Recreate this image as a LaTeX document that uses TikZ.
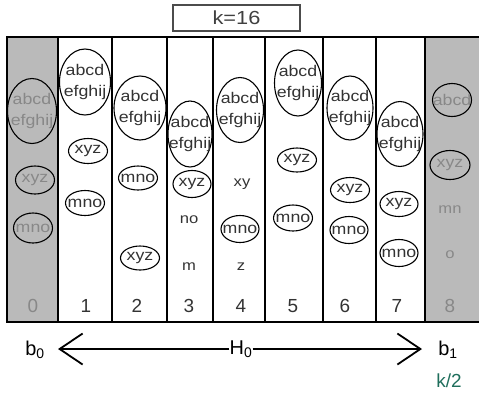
\documentclass[tikz,border=0pt]{standalone}
\usepackage{fontspec}
\setmainfont{Liberation Sans}
\newfontfamily\widesans[FakeStretch=1.15]{Liberation Sans}
\usetikzlibrary{shapes.geometric,arrows.meta}
\definecolor{colgray}{HTML}{BABABA}
\definecolor{txtdark}{HTML}{333333}
\definecolor{txtgray}{HTML}{888888}
\definecolor{kgreen}{HTML}{1F6E5C}
\tikzset{
  ell/.style={draw=black, line width=1.1bp, ellipse, inner sep=0pt},
  big/.style={ell, minimum width=48bp, minimum height=65bp},
  small/.style={ell, minimum width=39bp, minimum height=26bp},
  etxt/.style={inner sep=0pt, align=center, text=txtdark,
    font=\widesans\fontsize{15.5}{20.5}\selectfont},
  etxtg/.style={etxt, text=txtgray},
  plain/.style={text=txtdark, font=\widesans\fontsize{14.5}{17}\selectfont, inner sep=0pt},
  num/.style={text=txtdark, font=\fontsize{19}{21}\selectfont, inner sep=0pt},
  divider/.style={line width=2bp, draw=black},
  lbl/.style={text=black, font=\fontsize{20}{22}\selectfont, inner sep=0pt},
}
\begin{document}
\begin{tikzpicture}[x=1bp,y=-1bp]
\useasboundingbox (0,0) rectangle (479,392);
% gray columns
\fill[colgray] (7,37) rectangle (58,322);
\fill[colgray] (425,37) rectangle (479,322);
% frame
\draw[divider] (479,37) -- (7,37) -- (7,322) -- (479,322);
\foreach \x in {58,112,167,213,265,323,376,425}
  \draw[divider] (\x,37) -- (\x,322);
% k box
\node[draw=black!70, line width=2bp, minimum width=127bp, minimum height=26bp, inner sep=0pt,
  text=black!75, font=\widesans\fontsize{19}{22}\selectfont] (k) at (236.5,18) {k=16};
% column 0
\node[big, minimum width=49bp, label={[etxtg]center:abcd\\efghij}] (c0a) at (32,111) {};
\node[small, minimum height=28bp, label={[etxtg]center:xyz}] (c0b) at (35,180) {};
\node[small, minimum height=30bp, label={[etxtg]center:mno}] (c0c) at (33,228) {};
% column 1
\node[big, minimum width=51bp, minimum height=66bp, label={[etxt]center:abcd\\efghij}] (c1a) at (85,82) {};
\node[small, minimum height=25bp, label={[etxt]center:xyz}] (c1b) at (88,151) {};
\node[small, minimum height=25bp, label={[etxt]center:mno}] (c1c) at (85,203) {};
% column 2
\node[big, minimum width=52bp, minimum height=64bp, label={[etxt]center:abcd\\efghij}] (c2a) at (140,108) {};
\node[small, minimum height=24bp, label={[etxt]center:mno}] (c2b) at (138,178) {};
\node[small, minimum height=24bp, label={[etxt]center:xyz}] (c2c) at (140,258) {};
% column 3
\node[big, minimum width=44bp, minimum height=66bp, label={[etxt]center:abcd\\efghij}] (c3a) at (190,134) {};
\node[small, minimum width=38bp, minimum height=27bp, label={[etxt]center:xyz}] (c3b) at (192,184) {};
\node[plain] (c3c) at (189,220) {no};
\node[plain] (c3d) at (189,267) {m};
% column 4
\node[big, minimum width=47bp, label={[etxt]center:abcd\\efghij}] (c4a) at (240,110) {};
\node[plain] (c4b) at (242,184) {xy};
\node[small, minimum width=38bp, minimum height=27bp, label={[etxt]center:mno}] (c4c) at (240,229) {};
\node[plain] (c4d) at (241,267) {z};
% column 5
\node[big, minimum width=47bp, minimum height=66bp, label={[etxt]center:abcd\\efghij}] (c5a) at (298,83) {};
\node[small, minimum height=24bp, label={[etxt]center:xyz}] (c5b) at (297,160) {};
\node[small, minimum height=26bp, label={[etxt]center:mno}] (c5c) at (293,218) {};
% column 6
\node[big, minimum width=46bp, minimum height=64bp, label={[etxt]center:abcd\\efghij}] (c6a) at (350,108) {};
\node[small, minimum height=25bp, label={[etxt]center:xyz}] (c6b) at (350,190) {};
\node[small, minimum width=38bp, minimum height=27bp, label={[etxt]center:mno}] (c6c) at (349,230) {};
% column 7
\node[big, minimum width=46bp, minimum height=65bp, label={[etxt]center:abcd\\efghij}] (c7a) at (400,134) {};
\node[small, minimum width=38bp, minimum height=25bp, label={[etxt]center:xyz}] (c7b) at (399,204) {};
\node[small, minimum width=38bp, minimum height=27bp, label={[etxt]center:mno}] (c7c) at (399,253) {};
% column 8
\node[small, minimum height=33bp, label={[etxtg]center:abcd}] (c8a) at (452,100) {};
\node[small, minimum width=40bp, minimum height=29bp, label={[etxtg]center:xyz}] (c8b) at (450,165) {};
\node[plain, text=txtgray] (c8c) at (450,210) {mn};
\node[plain, text=txtgray] (c8d) at (450,255) {o};
% numbers
\node[num, text=txtgray] (n0) at (33,306) {0};
\node[num] (n1) at (86,306) {1};
\node[num] (n2) at (137,306) {2};
\node[num] (n3) at (189,306) {3};
\node[num] (n4) at (241,306) {4};
\node[num] (n5) at (293,306) {5};
\node[num] (n6) at (345,306) {6};
\node[num] (n7) at (397,306) {7};
\node[num, text=txtgray] (n8) at (450,306) {8};
% bottom arrow
\node[lbl] (b0) at (35,350) {b\textsubscript{0}};
\node[lbl] (H0) at (241,349) {H\textsubscript{0}};
\node[lbl] (b1) at (448,350) {b\textsubscript{1}};
\node[text=kgreen, font=\fontsize{19}{21}\selectfont, inner sep=0pt] (k2) at (449,381) {k/2};
\coordinate (tipL) at (58,349);
\coordinate (tipR) at (422,349);
\draw[line width=1.5bp, -{Straight Barb[length=23bp,width=31bp,line width=1.8bp]}] (H0.west) -- (tipL);
\draw[line width=1.5bp, -{Straight Barb[length=23bp,width=31bp,line width=1.8bp]}] (H0.east) -- (tipR);
\end{tikzpicture}
\end{document}
